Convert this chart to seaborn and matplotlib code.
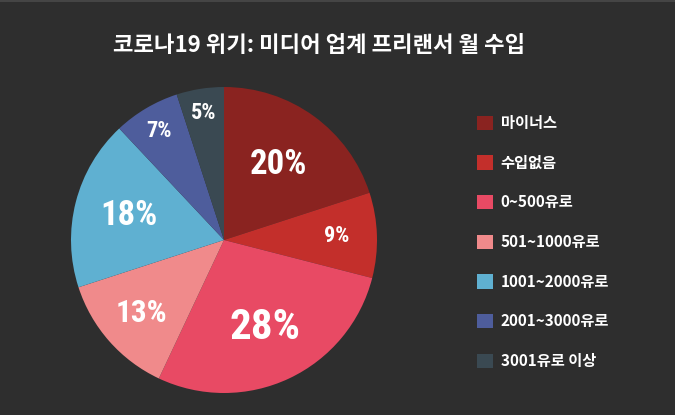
import matplotlib
matplotlib.use('Agg')
import matplotlib.pyplot as plt
import seaborn as sns
import numpy as np
from matplotlib.patches import Patch

# Data
categories = ['마이너스', '수입없음', '0~500유로', '501~1000유로',
              '1001~2000유로', '2001~3000유로', '3001유로 이상']
shares = [20, 9, 28, 13, 18, 7, 5]
colors = ['#8a2320', '#c32f2b', '#e84a64', '#f08a8b',
          '#5fb0d1', '#4e5d9c', '#3a4952']
title = '코로나19 위기: 미디어 업계 프리랜서 월 수입'

# label styling per slice (distance from centre, font size)
label_dist = [0.61, 0.74, 0.63, 0.72, 0.64, 0.83, 0.84]
label_size = [25, 16, 31, 22.5, 25, 16, 16]

bg = '#2e2e2e'
sns.set_theme(style='white')
plt.rcParams['font.family'] = ['Noto Sans CJK KR', 'DejaVu Sans']

fig = plt.figure(figsize=(6.75, 4.15), dpi=100)
fig.patch.set_facecolor(bg)

# Pie axes
ax = fig.add_axes([71 / 675, (415 - 240 - 153) / 415, 306 / 675, 306 / 415])
ax.set_facecolor(bg)
wedges, _ = ax.pie(shares, colors=colors, startangle=90, counterclock=False,
                   radius=1, wedgeprops=dict(linewidth=0))
ax.set_xlim(-1, 1)
ax.set_ylim(-1, 1)
ax.set_aspect('equal')

for w, val, d, fs in zip(wedges, shares, label_dist, label_size):
    ang = np.deg2rad((w.theta1 + w.theta2) / 2)
    ax.text(d * np.cos(ang), d * np.sin(ang), f'{val}%', ha='center', va='center',
            color='white', fontsize=fs, fontweight='bold', fontstretch='condensed',
            family=['Roboto Condensed', 'Roboto', 'DejaVu Sans'])

# Title
fig.text(319 / 675, 1 - 45 / 415, title, ha='center', va='center',
         color='white', fontsize=16, fontweight='black')

# Legend
handles = [Patch(facecolor=c, edgecolor='none') for c in colors]
leg = fig.legend(handles, categories, loc='upper left',
                 bbox_to_anchor=(477 / 675, 1 - 115 / 415),
                 frameon=False, fontsize=11, handlelength=1.05, handleheight=1.05,
                 handletextpad=0.5, labelspacing=1.55, borderpad=0, borderaxespad=0)
for t in leg.get_texts():
    t.set_color('white')
    t.set_fontweight('bold')

# thin top border line
fig.add_artist(plt.Line2D([0, 1], [0.998, 0.998], transform=fig.transFigure,
                          color='#4a4a4a', linewidth=1.2))

fig.savefig('out.png', dpi=100, facecolor=bg)
plt.close()
